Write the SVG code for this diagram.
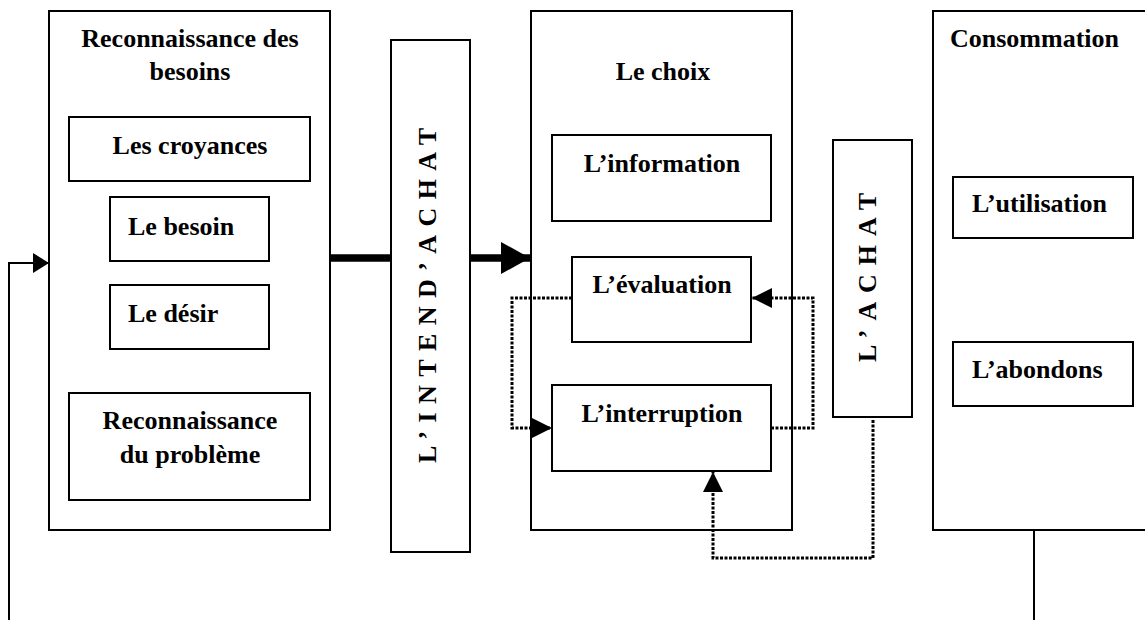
<svg xmlns="http://www.w3.org/2000/svg" width="1145" height="620" viewBox="0 0 1145 620">
<style>
.box{fill:#fff;stroke:#000;stroke-width:2}
.t{font-family:"Liberation Serif","Times New Roman",serif;font-weight:bold;font-size:26px;fill:#000}
.c{text-anchor:middle}
.solid{fill:none;stroke:#000;stroke-width:2}
.thick{fill:none;stroke:#000;stroke-width:7.5}
.dot{fill:none;stroke:#000;stroke-width:3;stroke-dasharray:3 1.5}
</style>
<defs>
<marker id="ah" markerUnits="userSpaceOnUse" markerWidth="18" markerHeight="22" refX="16" refY="10" orient="auto"><path d="M0,0 L16,10 L0,20 Z" fill="#000"/></marker>
<marker id="ahBig" markerUnits="userSpaceOnUse" markerWidth="32" markerHeight="34" refX="29" refY="16" orient="auto"><path d="M0,0 L29,16 L0,32 Z" fill="#000"/></marker>
<marker id="ahDot" markerUnits="userSpaceOnUse" markerWidth="22" markerHeight="22" refX="20" refY="10" orient="auto"><path d="M0,0 L20,10 L0,20 Z" fill="#000"/></marker>
</defs>
<rect width="1145" height="620" fill="#fff"/>

<g id="besoins">
<rect class="box" x="49" y="11" width="281" height="519"/>
<text class="t c" x="190" y="47">Reconnaissance des</text>
<text class="t c" x="190" y="80">besoins</text>
</g>
<g id="croyances">
<rect class="box" x="69" y="117" width="241" height="64"/>
<text class="t c" x="190" y="154">Les croyances</text>
</g>
<g id="besoin">
<rect class="box" x="110" y="197" width="159" height="64"/>
<text class="t" x="128" y="235">Le besoin</text>
</g>
<g id="desir">
<rect class="box" x="110" y="285" width="159" height="64"/>
<text class="t" x="128" y="322">Le désir</text>
</g>
<g id="probleme">
<rect class="box" x="69" y="393" width="241" height="107"/>
<text class="t c" x="190" y="429">Reconnaissance</text>
<text class="t c" x="190" y="463">du problème</text>
</g>

<g id="intention">
<rect class="box" x="391" y="40" width="79" height="512"/>
<text class="t" transform="translate(436,463) rotate(-90)" x="0" y="0" font-size="25" textLength="335" lengthAdjust="spacing">L’INTEND’ACHAT</text>
</g>

<g id="choix">
<rect class="box" x="531" y="11" width="261" height="519"/>
<text class="t c" x="663" y="80">Le choix</text>
</g>
<g id="information">
<rect class="box" x="552" y="135" width="219" height="86"/>
<text class="t c" x="662" y="172">L’information</text>
</g>
<g id="evaluation">
<rect class="box" x="572" y="257" width="179" height="85"/>
<text class="t c" x="662" y="293">L’évaluation</text>
</g>
<g id="interruption">
<rect class="box" x="552" y="385" width="219" height="86"/>
<text class="t c" x="662" y="422">L’interruption</text>
</g>

<g id="achat">
<rect class="box" x="833" y="140" width="79" height="277"/>
<text class="t" transform="translate(876,362) rotate(-90)" x="0" y="0" font-size="25" textLength="169" lengthAdjust="spacing">L’ACHAT</text>
</g>

<g id="consommation">
<rect class="box" x="933" y="11" width="220" height="519"/>
<text class="t" x="950" y="47">Consommation</text>
</g>
<g id="utilisation">
<rect class="box" x="953" y="177" width="180" height="61"/>
<text class="t" x="972" y="212">L’utilisation</text>
</g>
<g id="abandon">
<rect class="box" x="953" y="342" width="180" height="64"/>
<text class="t" x="972" y="378">L’abondons</text>
</g>

<g id="connectors">
<path class="solid" d="M9,620 V263 H49" marker-end="url(#ah)"/>
<path class="thick" d="M330,258 H391"/>
<path class="thick" d="M471,258 H530" marker-end="url(#ahBig)"/>
<path class="dot" d="M572,298 H512 V428 H552" marker-end="url(#ahDot)"/>
<path class="dot" d="M771,428 H813 V298 H752" marker-end="url(#ahDot)"/>
<path class="dot" d="M873,420 V558 H713 V472" marker-end="url(#ahDot)"/>
<path class="solid" d="M1034,530 V620"/>
</g>
</svg>
